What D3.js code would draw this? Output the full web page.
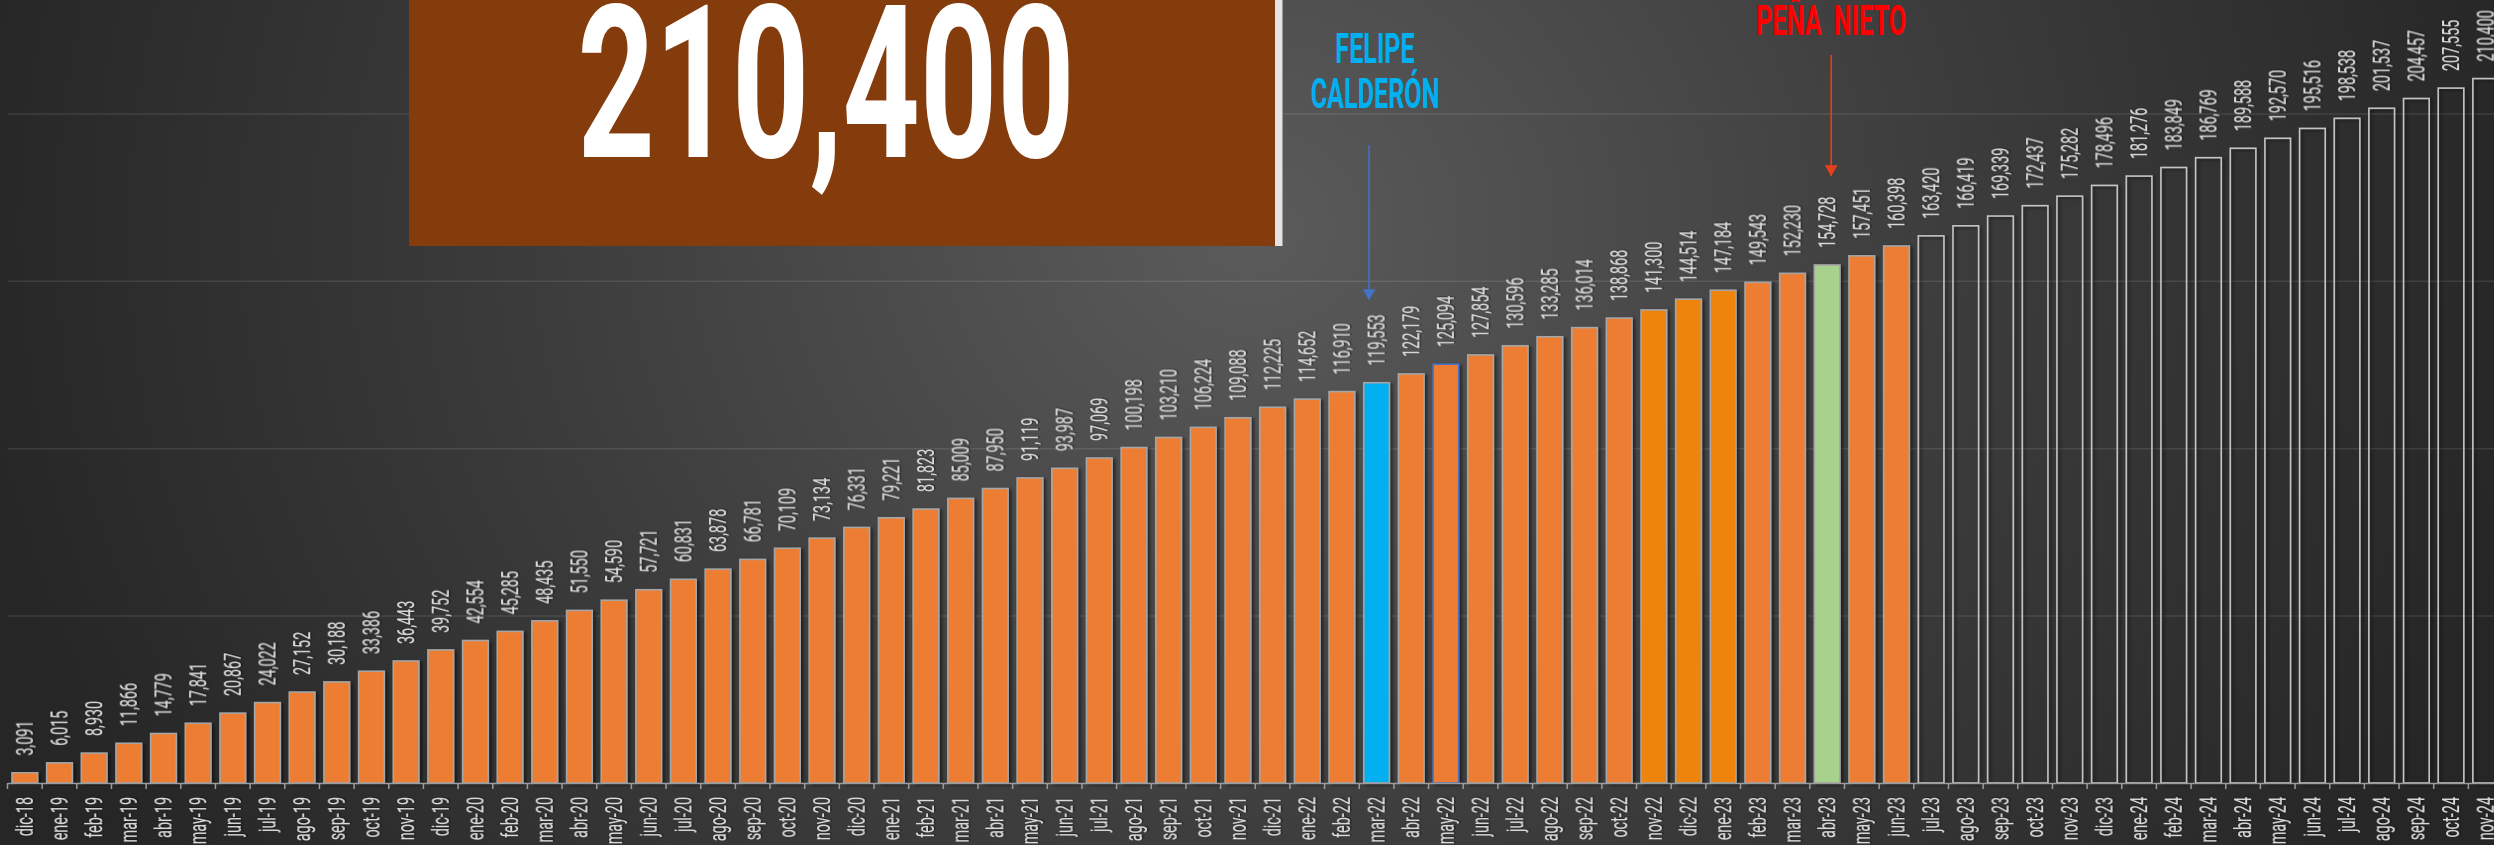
<!DOCTYPE html>
<html>
<head>
<meta charset="utf-8">
<script src="https://cdn.jsdelivr.net/npm/d3@7/dist/d3.min.js"></script>
<style>
    body { margin: 0; background: #262626; overflow: hidden; }
    .container svg { display: block; }
    .lbl { font-family: Roboto, "Liberation Sans", sans-serif; font-size: 24px; fill: #dadada; }
    .big { font-family: Roboto, "Liberation Sans", sans-serif; font-weight: 700; }
</style>
</head>
<body>
<div class="container"></div>
<script>
const WIDTH = 2494;
const HEIGHT = 845;
const PLOT_LEFT = 7.5;
const STEP = 34.66;
const BASE_Y = 783;
const TOP_Y = -54;

// monthly cumulative totals, dic-18 .. nov-24
var months = [
    'dic-18',
    'ene-19', 'feb-19', 'mar-19', 'abr-19', 'may-19', 'jun-19', 'jul-19', 'ago-19', 'sep-19', 'oct-19', 'nov-19', 'dic-19',
    'ene-20', 'feb-20', 'mar-20', 'abr-20', 'may-20', 'jun-20', 'jul-20', 'ago-20', 'sep-20', 'oct-20', 'nov-20', 'dic-20',
    'ene-21', 'feb-21', 'mar-21', 'abr-21', 'may-21', 'jun-21', 'jul-21', 'ago-21', 'sep-21', 'oct-21', 'nov-21', 'dic-21',
    'ene-22', 'feb-22', 'mar-22', 'abr-22', 'may-22', 'jun-22', 'jul-22', 'ago-22', 'sep-22', 'oct-22', 'nov-22', 'dic-22',
    'ene-23', 'feb-23', 'mar-23', 'abr-23', 'may-23', 'jun-23', 'jul-23', 'ago-23', 'sep-23', 'oct-23', 'nov-23', 'dic-23',
    'ene-24', 'feb-24', 'mar-24', 'abr-24', 'may-24', 'jun-24', 'jul-24', 'ago-24', 'sep-24', 'oct-24', 'nov-24'
];
var totals = [
    3091,
    6015, 8930, 11866, 14779, 17841, 20867, 24022, 27152, 30188, 33386, 36443, 39752,
    42554, 45285, 48435, 51550, 54590, 57721, 60831, 63878, 66781, 70109, 73134, 76331,
    79221, 81823, 85009, 87950, 91119, 93987, 97069, 100198, 103210, 106224, 109088, 112225,
    114652, 116910, 119553, 122179, 125094, 127854, 130596, 133285, 136014, 138868, 141300, 144514,
    147184, 149543, 152230, 154728, 157451, 160398, 163420, 166419, 169339, 172437, 175282, 178496,
    181276, 183849, 186769, 189588, 192570, 195516, 198538, 201537, 204457, 207555, 210400
];
var gridValues = [50000, 100000, 150000, 200000];

var CALDERON = 'mar-22';
var PENA = 'abr-23';
var LAST_REAL = 'jun-23';
var BRIGHT = ['nov-22', 'dic-22', 'ene-23'];
var BLUE_EDGE = 'may-22';

var translate = function (x, y) {
    return "translate(" + x + "," + y + ")";
};
var fmt = d3.format(',');

var svg = d3.select('.container').append('svg')
    .attr('width', WIDTH)
    .attr('height', HEIGHT);

var defs = svg.append('defs');
var grad = defs.append('radialGradient')
    .attr('id', 'bg')
    .attr('gradientUnits', 'userSpaceOnUse')
    .attr('cx', 1250).attr('cy', 230).attr('r', 1300)
    .attr('gradientTransform', 'translate(1250,230) scale(1,0.9) translate(-1250,-230)');
grad.append('stop').attr('offset', 0).attr('stop-color', '#5b5b5b');
grad.append('stop').attr('offset', 0.55).attr('stop-color', '#3c3c3c');
grad.append('stop').attr('offset', 1).attr('stop-color', '#262626');

var shadow = defs.append('filter').attr('id', 'shadow')
    .attr('x', '-30%').attr('y', '-5%').attr('width', '170%').attr('height', '115%');
shadow.append('feDropShadow').attr('dx', 2.5).attr('dy', 1.5).attr('stdDeviation', 1.5)
    .attr('flood-color', '#000').attr('flood-opacity', 0.5);

var tshadow = defs.append('filter').attr('id', 'tshadow')
    .attr('x', '-20%').attr('y', '-20%').attr('width', '140%').attr('height', '140%');
tshadow.append('feDropShadow').attr('dx', 1).attr('dy', 1).attr('stdDeviation', 0.8)
    .attr('flood-color', '#000').attr('flood-opacity', 0.6);

var addMarker = function (id, color) {
    defs.append('marker')
        .attr('id', id)
        .attr('markerUnits', 'userSpaceOnUse')
        .attr('viewBox', '0 0 10 12')
        .attr('refX', 10).attr('refY', 6)
        .attr('markerWidth', 11).attr('markerHeight', 13)
        .attr('orient', 'auto')
        .append('path')
        .attr('d', 'M0,0L10,6L0,12Z')
        .attr('fill', color);
};
addMarker('arrowBlue', '#4472C4');
addMarker('arrowRed', '#E8401C');

svg.append('rect')
    .attr('width', WIDTH).attr('height', HEIGHT)
    .attr('fill', 'url(#bg)');

var xScale = d3.scaleBand()
    .domain(months)
    .range([PLOT_LEFT, PLOT_LEFT + STEP * months.length])
    .paddingInner(0.26)
    .paddingOuter(0.13);

var yScale = d3.scaleLinear()
    .domain([0, 250000])
    .range([BASE_Y, TOP_Y]);

var bw = xScale.bandwidth();
var mid = function (m) { return xScale(m) + bw / 2; };

// gridlines
var yAxis = d3.axisLeft(yScale).tickValues(gridValues).tickSize(-(WIDTH - PLOT_LEFT)).tickFormat('');
var gy = svg.append('g')
    .attr('transform', translate(PLOT_LEFT, 0))
    .call(yAxis);
gy.select('.domain').remove();
gy.selectAll('.tick line')
    .attr('stroke', 'rgba(255,255,255,0.1)')
    .attr('stroke-width', 1.5);

// bars
var lastReal = months.indexOf(LAST_REAL);
var barFill = function (m, i) {
    if (i > lastReal) return 'none';
    if (m === CALDERON) return '#00B0F0';
    if (m === PENA) return '#A9D18E';
    if (BRIGHT.indexOf(m) >= 0) return '#EF840E';
    return '#ED7D31';
};
var barStroke = function (m, i) {
    if (m === BLUE_EDGE) return '#4472C4';
    if (i > lastReal) return '#c4c4c4';
    return '#a6a6a6';
};

var rows = months.map(function (m, i) {
    return { month: m, total: totals[i], i: i };
});

svg.append('g')
    .selectAll('rect')
    .data(rows)
    .enter()
    .append('rect')
    .attr('x', function (d) { return xScale(d.month); })
    .attr('y', function (d) { return yScale(d.total); })
    .attr('width', bw)
    .attr('height', function (d) { return BASE_Y - yScale(d.total); })
    .attr('fill', function (d) { return barFill(d.month, d.i); })
    .attr('stroke', function (d) { return barStroke(d.month, d.i); })
    .attr('stroke-width', 1.6)
    .attr('filter', 'url(#shadow)');

// value labels
svg.append('g')
    .selectAll('text')
    .data(rows)
    .enter()
    .append('text')
    .attr('class', 'lbl')
    .attr('filter', 'url(#tshadow)')
    .attr('transform', function (d) {
        return translate(mid(d.month), yScale(d.total) - 17) + ' rotate(-90) scale(0.6,1)';
    })
    .attr('dy', '0.35em')
    .style('text-anchor', 'start')
    .text(function (d) { return fmt(d.total); });

// category axis
var xAxis = d3.axisBottom(xScale).tickSize(0).tickSizeOuter(0);
var gx = svg.append('g')
    .attr('transform', translate(0, BASE_Y))
    .call(xAxis)
    .attr('font-size', null)
    .attr('font-family', null);
gx.select('.domain')
    .attr('stroke', '#9c9c9c')
    .attr('stroke-width', 1.5);
gx.selectAll('.tick text')
    .attr('class', 'lbl')
    .attr('fill', null)
    .attr('filter', 'url(#tshadow)')
    .attr('y', 0)
    .attr('dy', '0.35em')
    .attr('transform', 'translate(0,14) rotate(-90) scale(0.6,1)')
    .style('text-anchor', 'end');
gx.selectAll('.tick')
    .append('line')
    .attr('x1', -xScale.step() / 2).attr('x2', -xScale.step() / 2)
    .attr('y1', 0).attr('y2', 6)
    .attr('stroke', '#9c9c9c')
    .attr('stroke-width', 1.5);

// big total box
var box = svg.append('g');
box.append('rect')
    .attr('x', 409).attr('y', -10)
    .attr('width', 866).attr('height', 256)
    .attr('fill', '#843C0C');
box.append('rect')
    .attr('x', 1275).attr('y', -10)
    .attr('width', 7.5).attr('height', 256)
    .attr('fill', '#e4e4e4');
box.append('text')
    .attr('class', 'big')
    .attr('transform', translate(826, 157) + ' scale(0.63,1)')
    .attr('font-size', 214)
    .attr('fill', '#ffffff')
    .style('text-anchor', 'middle')
    .text(fmt(totals[totals.length - 1]));

// annotations
var cx = mid(CALDERON);
var note1 = svg.append('g')
    .attr('class', 'big')
    .attr('font-size', 42)
    .attr('fill', '#00B0F0')
    .style('text-anchor', 'middle');
note1.append('text')
    .attr('transform', translate(cx - 1.5, 63) + ' scale(0.6,1)')
    .text('FELIPE');
note1.append('text')
    .attr('transform', translate(cx - 1.5, 108) + ' scale(0.6,1)')
    .text('CALDERÓN');
svg.append('line')
    .attr('x1', cx - 7.5).attr('x2', cx - 7.5)
    .attr('y1', 145).attr('y2', 300)
    .attr('stroke', '#4472C4')
    .attr('stroke-width', 1.6)
    .attr('marker-end', 'url(#arrowBlue)');

var px = mid(PENA);
svg.append('text')
    .attr('class', 'big')
    .attr('font-size', 42)
    .attr('fill', '#FF0000')
    .style('text-anchor', 'middle')
    .attr('transform', translate(px + 4, 35) + ' scale(0.6,1)')
    .attr('word-spacing', 10)
    .text('PEÑA NIETO');
svg.append('line')
    .attr('x1', px + 4).attr('x2', px + 4)
    .attr('y1', 55).attr('y2', 176)
    .attr('stroke', '#E8401C')
    .attr('stroke-width', 1.6)
    .attr('marker-end', 'url(#arrowRed)');
</script>
</body>
</html>
